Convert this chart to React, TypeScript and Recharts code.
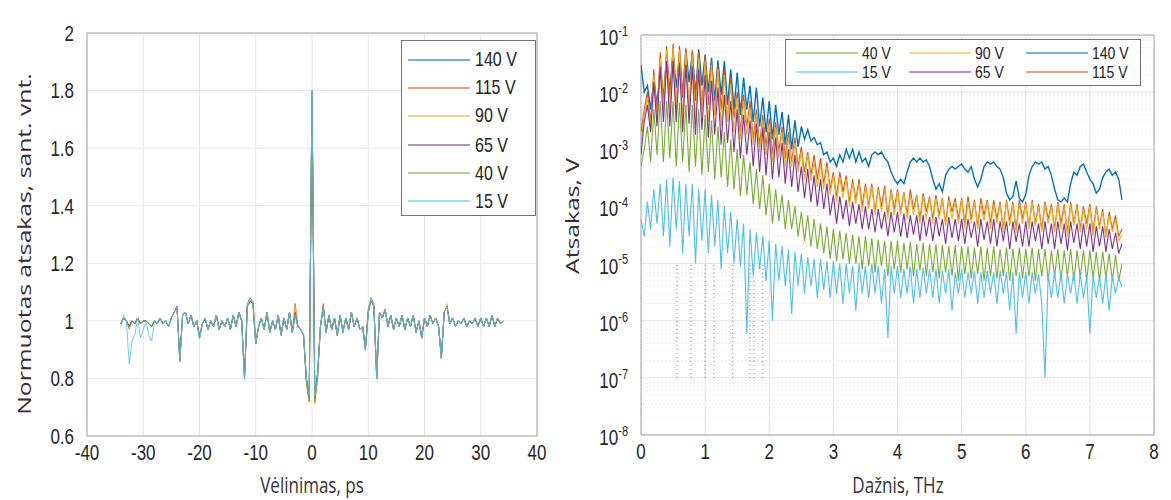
import { LineChart, Line, XAxis, YAxis, CartesianGrid, ReferenceLine, ReferenceArea } from 'recharts';

// ---- left panel: normalised response vs delay ----
const delayPs = [
  -34, -33.5, -33, -32.5, -32, -31.5, -31, -30.5, -30, -29.5,
  -29, -28.5, -28, -27.5, -27, -26.5, -26, -25.5, -25, -24.5,
  -24, -23.5, -23, -22.5, -22, -21.5, -21, -20.5, -20, -19.5,
  -19, -18.5, -18, -17.5, -17, -16.5, -16, -15.5, -15, -14.5,
  -14, -13.5, -13, -12.5, -12, -11.5, -11, -10.5, -10, -9.5,
  -9, -8.5, -8, -7.5, -7, -6.5, -6, -5.5, -5, -4.5,
  -4, -3.5, -3, -2.5, -2, -1.5, -1, -0.5, 0, 0.5,
  1, 1.5, 2, 2.5, 3, 3.5, 4, 4.5, 5, 5.5,
  6, 6.5, 7, 7.5, 8, 8.5, 9, 9.5, 10, 10.5,
  11, 11.5, 12, 12.5, 13, 13.5, 14, 14.5, 15, 15.5,
  16, 16.5, 17, 17.5, 18, 18.5, 19, 19.5, 20, 20.5,
  21, 21.5, 22, 22.5, 23, 23.5, 24, 24.5, 25, 25.5,
  26, 26.5, 27, 27.5, 28, 28.5, 29, 29.5, 30, 30.5,
  31, 31.5, 32, 32.5, 33, 33.5, 34,
];

const norm140 = [
  0.99, 1.01, 1.0, 0.98, 1.0, 0.99, 1.01, 0.99, 1.0, 1.0,
  0.99, 0.98, 1.0, 0.99, 1.01, 0.99, 1.0, 0.98, 1.01, 1.03,
  1.05, 0.86, 1.02, 1.03, 0.99, 1.02, 0.98, 1.0, 0.94, 0.99,
  1.01, 0.97, 1.0, 0.98, 1.02, 0.97, 1.0, 0.98, 1.01, 0.97,
  1.02, 0.98, 1.03, 1.0, 0.8, 1.05, 1.07, 1.06, 0.92, 0.98,
  1.01, 0.97, 1.03, 0.96, 1.0, 0.97, 1.02, 0.95, 1.01, 0.97,
  1.03, 0.96, 1.02, 0.98, 0.97, 0.95, 0.8, 0.75, 1.8, 0.75,
  0.82, 0.98, 1.05, 0.96, 1.02, 0.97, 1.01, 0.95, 1.02, 0.96,
  1.01, 0.97, 1.03, 0.98, 1.01, 0.97, 0.98, 0.9, 1.03, 1.08,
  1.05, 0.8, 1.03, 1.01, 1.04, 0.98, 1.02, 0.97, 1.01, 0.98,
  1.02, 0.97, 1.01, 0.98, 1.02, 0.96, 1.0, 0.94, 1.01, 0.98,
  1.02, 0.99, 1.01, 0.98, 0.87, 1.03, 1.05, 0.99, 1.01, 0.98,
  1.0, 0.99, 1.01, 0.98, 1.0, 0.99, 1.01, 0.98, 1.01, 0.98,
  1.01, 0.98, 1.02, 0.98, 1.01, 0.99, 1.0,
];

const norm115 = [
  0.99, 1.01, 1.0, 0.98, 1.0, 0.99, 1.01, 0.99, 1.0, 1.0,
  0.99, 0.98, 1.0, 0.99, 1.01, 0.99, 1.0, 0.98, 1.01, 1.03,
  1.05, 0.87, 1.02, 1.03, 0.99, 1.02, 0.98, 1.0, 0.95, 0.99,
  1.01, 0.97, 1.0, 0.98, 1.02, 0.97, 1.0, 0.98, 1.01, 0.97,
  1.02, 0.98, 1.03, 1.0, 0.81, 1.06, 1.08, 1.07, 0.93, 0.98,
  1.01, 0.97, 1.03, 0.96, 1.0, 0.97, 1.02, 0.95, 1.01, 0.97,
  1.03, 0.96, 1.06, 0.98, 0.97, 0.95, 0.79, 0.72, 1.78, 0.72,
  0.81, 0.98, 1.06, 0.96, 1.02, 0.97, 1.01, 0.95, 1.02, 0.96,
  1.01, 0.97, 1.03, 0.98, 1.01, 0.97, 0.98, 0.91, 1.04, 1.08,
  1.06, 0.81, 1.03, 1.01, 1.04, 0.98, 1.02, 0.97, 1.01, 0.98,
  1.02, 0.97, 1.01, 0.98, 1.02, 0.96, 1.0, 0.95, 1.01, 0.98,
  1.02, 0.99, 1.01, 0.98, 0.88, 1.03, 1.05, 0.99, 1.01, 0.98,
  1.0, 0.99, 1.01, 0.98, 1.0, 0.99, 1.01, 0.98, 1.01, 0.98,
  1.01, 0.98, 1.02, 0.98, 1.01, 0.99, 1.0,
];

const norm90 = [
  0.99, 1.01, 1.0, 0.98, 1.0, 0.99, 1.01, 0.99, 1.0, 1.0,
  0.99, 0.98, 1.0, 0.99, 1.01, 0.99, 1.0, 0.98, 1.01, 1.03,
  1.05, 0.87, 1.02, 1.03, 0.99, 1.02, 0.98, 1.0, 0.95, 0.99,
  1.01, 0.97, 1.0, 0.98, 1.02, 0.97, 1.0, 0.98, 1.01, 0.97,
  1.02, 0.98, 1.03, 1.0, 0.81, 1.05, 1.08, 1.06, 0.93, 0.98,
  1.01, 0.97, 1.03, 0.96, 1.0, 0.97, 1.02, 0.95, 1.01, 0.97,
  1.03, 0.96, 1.05, 0.98, 0.97, 0.95, 0.79, 0.72, 1.79, 0.71,
  0.81, 0.98, 1.05, 0.96, 1.02, 0.97, 1.01, 0.95, 1.02, 0.96,
  1.01, 0.97, 1.03, 0.98, 1.01, 0.97, 0.98, 0.91, 1.03, 1.08,
  1.05, 0.81, 1.03, 1.01, 1.04, 0.98, 1.02, 0.97, 1.01, 0.98,
  1.02, 0.97, 1.01, 0.98, 1.02, 0.96, 1.0, 0.95, 1.01, 0.98,
  1.02, 0.99, 1.01, 0.98, 0.88, 1.03, 1.06, 0.99, 1.01, 0.98,
  1.0, 0.99, 1.01, 0.98, 1.0, 0.99, 1.01, 0.98, 1.01, 0.98,
  1.01, 0.98, 1.02, 0.98, 1.01, 0.99, 1.0,
];

const norm65 = [
  0.99, 1.01, 1.0, 0.98, 1.0, 0.99, 1.01, 0.99, 1.0, 1.0,
  0.99, 0.98, 1.0, 0.99, 1.01, 0.99, 1.0, 0.98, 1.01, 1.03,
  1.05, 0.86, 1.02, 1.03, 0.99, 1.02, 0.98, 1.0, 0.94, 0.99,
  1.01, 0.97, 1.0, 0.98, 1.02, 0.97, 1.0, 0.98, 1.01, 0.97,
  1.02, 0.98, 1.03, 1.0, 0.8, 1.05, 1.07, 1.06, 0.92, 0.98,
  1.01, 0.97, 1.03, 0.96, 1.0, 0.97, 1.02, 0.95, 1.01, 0.97,
  1.03, 0.96, 1.03, 0.98, 0.97, 0.95, 0.8, 0.73, 1.79, 0.73,
  0.82, 0.98, 1.05, 0.96, 1.02, 0.97, 1.01, 0.95, 1.02, 0.96,
  1.01, 0.97, 1.03, 0.98, 1.01, 0.97, 0.98, 0.9, 1.03, 1.07,
  1.05, 0.8, 1.03, 1.01, 1.04, 0.98, 1.02, 0.97, 1.01, 0.98,
  1.02, 0.97, 1.01, 0.98, 1.02, 0.96, 1.0, 0.94, 1.01, 0.98,
  1.02, 0.99, 1.01, 0.98, 0.87, 1.03, 1.05, 0.99, 1.01, 0.98,
  1.0, 0.99, 1.01, 0.98, 1.0, 0.99, 1.01, 0.98, 1.01, 0.98,
  1.01, 0.98, 1.02, 0.98, 1.01, 0.99, 1.0,
];

const norm40 = [
  0.99, 1.01, 1.0, 0.97, 1.0, 0.99, 1.01, 0.99, 1.0, 1.0,
  0.99, 0.98, 1.0, 0.99, 1.01, 0.99, 1.0, 0.98, 1.01, 1.03,
  1.05, 0.86, 1.02, 1.03, 0.99, 1.02, 0.98, 1.0, 0.94, 0.99,
  1.01, 0.97, 1.0, 0.98, 1.02, 0.97, 1.0, 0.98, 1.01, 0.97,
  1.02, 0.98, 1.03, 1.0, 0.8, 1.05, 1.07, 1.06, 0.92, 0.98,
  1.01, 0.97, 1.03, 0.96, 1.0, 0.97, 1.02, 0.95, 1.01, 0.97,
  1.03, 0.96, 1.02, 0.98, 0.97, 0.95, 0.78, 0.72, 1.79, 0.72,
  0.8, 0.98, 1.05, 0.96, 1.02, 0.97, 1.01, 0.95, 1.02, 0.96,
  1.01, 0.97, 1.03, 0.98, 1.01, 0.97, 0.98, 0.9, 1.03, 1.07,
  1.05, 0.8, 1.03, 1.01, 1.04, 0.98, 1.02, 0.97, 1.01, 0.98,
  1.02, 0.97, 1.01, 0.98, 1.02, 0.96, 1.0, 0.94, 1.01, 0.98,
  1.02, 0.99, 1.01, 0.98, 0.87, 1.03, 1.05, 0.99, 1.01, 0.98,
  1.0, 0.99, 1.01, 0.98, 1.0, 0.99, 1.01, 0.98, 1.01, 0.98,
  1.01, 0.98, 1.02, 0.98, 1.01, 0.99, 1.0,
];

const norm15 = [
  0.98, 1.02, 1.0, 0.85, 0.93, 0.95, 1.01, 0.94, 0.97, 1.0,
  0.95, 0.93, 1.0, 0.99, 1.01, 0.99, 1.0, 0.98, 1.01, 1.03,
  1.05, 0.86, 1.02, 1.03, 0.99, 1.02, 0.98, 1.0, 0.94, 0.99,
  1.01, 0.97, 1.0, 0.98, 1.02, 0.97, 1.0, 0.98, 1.01, 0.97,
  1.02, 0.98, 1.03, 1.0, 0.8, 1.05, 1.08, 1.06, 0.92, 0.98,
  1.01, 0.97, 1.03, 0.96, 1.0, 0.97, 1.02, 0.95, 1.01, 0.97,
  1.03, 0.96, 1.02, 0.98, 0.97, 0.95, 0.8, 0.74, 1.8, 0.74,
  0.82, 0.98, 1.05, 0.96, 1.02, 0.97, 1.01, 0.95, 1.02, 0.96,
  1.01, 0.97, 1.03, 0.98, 1.01, 0.97, 0.98, 0.9, 1.03, 1.08,
  1.05, 0.8, 1.03, 1.01, 1.04, 0.98, 1.02, 0.97, 1.01, 0.98,
  1.02, 0.97, 1.01, 0.98, 1.02, 0.96, 1.0, 0.94, 1.01, 0.98,
  1.02, 0.99, 1.01, 0.98, 0.87, 1.03, 1.05, 0.99, 1.01, 0.98,
  1.0, 0.99, 1.01, 0.98, 1.0, 0.99, 1.01, 0.98, 1.01, 0.98,
  1.01, 0.98, 1.02, 0.98, 1.01, 0.99, 1.0,
];

// ---- right panel: spectrum amplitude vs frequency ----
const freqTHz = [
  0, 0.05, 0.1, 0.15, 0.2, 0.25, 0.3, 0.35, 0.4, 0.45,
  0.5, 0.55, 0.6, 0.65, 0.7, 0.75, 0.8, 0.85, 0.9, 0.95,
  1, 1.05, 1.1, 1.15, 1.2, 1.25, 1.3, 1.35, 1.4, 1.45,
  1.5, 1.55, 1.6, 1.65, 1.7, 1.75, 1.8, 1.85, 1.9, 1.95,
  2, 2.05, 2.1, 2.15, 2.2, 2.25, 2.3, 2.35, 2.4, 2.45,
  2.5, 2.55, 2.6, 2.65, 2.7, 2.75, 2.8, 2.85, 2.9, 2.95,
  3, 3.05, 3.1, 3.15, 3.2, 3.25, 3.3, 3.35, 3.4, 3.45,
  3.5, 3.55, 3.6, 3.65, 3.7, 3.75, 3.8, 3.85, 3.9, 3.95,
  4, 4.05, 4.1, 4.15, 4.2, 4.25, 4.3, 4.35, 4.4, 4.45,
  4.5, 4.55, 4.6, 4.65, 4.7, 4.75, 4.8, 4.85, 4.9, 4.95,
  5, 5.05, 5.1, 5.15, 5.2, 5.25, 5.3, 5.35, 5.4, 5.45,
  5.5, 5.55, 5.6, 5.65, 5.7, 5.75, 5.8, 5.85, 5.9, 5.95,
  6, 6.05, 6.1, 6.15, 6.2, 6.25, 6.3, 6.35, 6.4, 6.45,
  6.5, 6.55, 6.6, 6.65, 6.7, 6.75, 6.8, 6.85, 6.9, 6.95,
  7, 7.05, 7.1, 7.15, 7.2, 7.25, 7.3, 7.35, 7.4, 7.45,
  7.5,
];

const amp140 = [
  3e-2, 1e-2, 1.3e-2, 5e-3, 1.6e-2, 6e-3, 2.5e-2, 8e-3, 4e-2, 1e-2,
  5e-2, 1.2e-2, 4.5e-2, 8e-3, 5.5e-2, 1.5e-2, 5e-2, 9e-3, 5.6e-2, 1.3e-2,
  4.5e-2, 1e-2, 4e-2, 7e-3, 3.6e-2, 9e-3, 3.5e-2, 6e-3, 2.5e-2, 5e-3,
  2.2e-2, 4e-3, 1.8e-2, 5e-3, 1.3e-2, 3e-3, 1.2e-2, 2.5e-3, 8e-3, 2e-3,
  7e-3, 1.5e-3, 6e-3, 1.8e-3, 4.5e-3, 1.2e-3, 4e-3, 1e-3, 3.2e-3, 1.1e-3,
  2.5e-3, 1.5e-3, 2.2e-3, 1.4e-3, 1.6e-3, 1.2e-3, 1.3e-3, 8e-4, 9e-4, 6e-4,
  7e-4, 5e-4, 8e-4, 6e-4, 1e-3, 7e-4, 1e-3, 6e-4, 9e-4, 6e-4,
  7e-4, 5e-4, 8e-4, 9e-4, 8e-4, 9e-4, 7e-4, 6e-4, 4e-4, 3e-4,
  2.5e-4, 3e-4, 2.5e-4, 4e-4, 6e-4, 7e-4, 6e-4, 7e-4, 6e-4, 6.5e-4,
  5e-4, 3e-4, 2e-4, 2.5e-4, 1.8e-4, 3.5e-4, 4.5e-4, 5e-4, 4.5e-4, 5e-4,
  5.5e-4, 4.5e-4, 4e-4, 5e-4, 3e-4, 2.2e-4, 3e-4, 5e-4, 6e-4, 5.5e-4,
  6e-4, 5e-4, 4.5e-4, 3.2e-4, 1.7e-4, 1.3e-4, 1.5e-4, 2.8e-4, 1.4e-4, 1.2e-4,
  1.6e-4, 3.5e-4, 5e-4, 6e-4, 5.5e-4, 6e-4, 4.5e-4, 5e-4, 3.5e-4, 2e-4,
  1.3e-4, 1.2e-4, 1.4e-4, 1.2e-4, 2.5e-4, 4e-4, 3.5e-4, 5e-4, 5.5e-4, 4e-4,
  3e-4, 2.5e-4, 1.7e-4, 2e-4, 3.2e-4, 4e-4, 4.5e-4, 3.5e-4, 4e-4, 3e-4,
  1.3e-4,
];

const amp115 = [
  2e-3, 5e-3, 1e-2, 3e-3, 2.5e-2, 4e-3, 5e-2, 6e-3, 6.5e-2, 8e-3,
  7e-2, 5e-3, 6.5e-2, 9e-3, 6e-2, 4e-3, 5.5e-2, 7e-3, 5e-2, 5e-3,
  4.5e-2, 6e-3, 3.5e-2, 4e-3, 3e-2, 5e-3, 2.5e-2, 3e-3, 1.8e-2, 3.5e-3,
  1e-2, 2e-3, 9e-3, 2.5e-3, 7e-3, 1.5e-3, 5e-3, 1.2e-3, 4e-3, 1.1e-3,
  3.5e-3, 8e-4, 3e-3, 9e-4, 2.5e-3, 7e-4, 2e-3, 6e-4, 1.6e-3, 5e-4,
  1.1e-3, 4e-4, 9e-4, 3.5e-4, 8e-4, 3e-4, 7e-4, 2.5e-4, 6e-4, 2e-4,
  4e-4, 1.5e-4, 4e-4, 1.8e-4, 3.5e-4, 1.2e-4, 3e-4, 1.3e-4, 3e-4, 1e-4,
  2.5e-4, 1e-4, 2.5e-4, 8e-5, 2.2e-4, 1e-4, 2.3e-4, 7e-5, 2e-4, 9e-5,
  2e-4, 8e-5, 1.8e-4, 7e-5, 2e-4, 9e-5, 1.6e-4, 6e-5, 1.7e-4, 8e-5,
  1.5e-4, 6e-5, 1.6e-4, 7e-5, 1.4e-4, 5e-5, 1.5e-4, 8e-5, 1.4e-4, 6e-5,
  1.4e-4, 5e-5, 1.5e-4, 6e-5, 1.3e-4, 4.5e-5, 1.4e-4, 7e-5, 1.3e-4, 5e-5,
  1.3e-4, 6e-5, 1.2e-4, 4e-5, 1.3e-4, 5.5e-5, 1.2e-4, 4e-5, 1.3e-4, 6e-5,
  1.2e-4, 4.5e-5, 1.3e-4, 5e-5, 1.1e-4, 4e-5, 1.2e-4, 6e-5, 1.1e-4, 4e-5,
  1.2e-4, 5e-5, 1.1e-4, 3.5e-5, 1.2e-4, 5e-5, 1.1e-4, 4e-5, 1e-4, 5e-5,
  1.1e-4, 3.5e-5, 1e-4, 4.5e-5, 9e-5, 3e-5, 8e-5, 4e-5, 7e-5, 3e-5,
  4e-5,
];

const amp90 = [
  1.3e-3, 4e-3, 8e-3, 2.5e-3, 2e-2, 3e-3, 4e-2, 5e-3, 5.5e-2, 4e-3,
  6e-2, 6e-3, 5.5e-2, 3.5e-3, 5e-2, 5e-3, 4.5e-2, 3e-3, 4e-2, 4e-3,
  3.5e-2, 3e-3, 3e-2, 4e-3, 2.5e-2, 2.5e-3, 2e-2, 3e-3, 1.4e-2, 2e-3,
  8e-3, 1.5e-3, 7e-3, 1.8e-3, 5e-3, 1.2e-3, 4e-3, 9e-4, 3.2e-3, 8e-4,
  2.8e-3, 6e-4, 2.4e-3, 7e-4, 2e-3, 5e-4, 1.6e-3, 5e-4, 1.3e-3, 4e-4,
  9e-4, 3e-4, 8e-4, 2.8e-4, 6e-4, 2.2e-4, 5.5e-4, 2e-4, 5e-4, 1.6e-4,
  3.5e-4, 1.2e-4, 3.2e-4, 1.4e-4, 3e-4, 1e-4, 2.6e-4, 1.1e-4, 2.5e-4, 8e-5,
  2.2e-4, 9e-5, 2.2e-4, 7e-5, 2e-4, 8e-5, 2e-4, 6e-5, 1.8e-4, 7e-5,
  1.8e-4, 7e-5, 1.7e-4, 6e-5, 1.6e-4, 7e-5, 1.5e-4, 5e-5, 1.5e-4, 6e-5,
  1.4e-4, 5e-5, 1.4e-4, 6e-5, 1.3e-4, 4.5e-5, 1.3e-4, 6e-5, 1.2e-4, 5e-5,
  1.3e-4, 4e-5, 1.2e-4, 5e-5, 1.2e-4, 4e-5, 1.1e-4, 5.5e-5, 1.2e-4, 4e-5,
  1.1e-4, 5e-5, 1.1e-4, 3.5e-5, 1.2e-4, 4.5e-5, 1.1e-4, 3.5e-5, 1.1e-4, 5e-5,
  1.1e-4, 4e-5, 1.2e-4, 4.5e-5, 1e-4, 3.5e-5, 1.1e-4, 5e-5, 1e-4, 3.5e-5,
  1.1e-4, 4e-5, 1e-4, 3e-5, 1.1e-4, 4.5e-5, 1e-4, 3.5e-5, 9e-5, 4e-5,
  1e-4, 3e-5, 9e-5, 4e-5, 8e-5, 2.8e-5, 7e-5, 3.5e-5, 6e-5, 2.5e-5,
  3.2e-5,
];

const amp65 = [
  8e-4, 3e-3, 6e-3, 2e-3, 1.5e-2, 2.5e-3, 2.8e-2, 3e-3, 3.5e-2, 2.5e-3,
  3.5e-2, 3e-3, 3.2e-2, 2e-3, 3e-2, 2.8e-3, 2.8e-2, 1.8e-3, 2.5e-2, 2.2e-3,
  2e-2, 1.6e-3, 1.6e-2, 1.8e-3, 1.2e-2, 1.2e-3, 9e-3, 1.3e-3, 7e-3, 9e-4,
  5e-3, 7e-4, 4e-3, 8e-4, 3.2e-3, 5e-4, 2.8e-3, 4e-4, 2.4e-3, 3.5e-4,
  2e-3, 3e-4, 1.6e-3, 3.2e-4, 1.3e-3, 2.5e-4, 1e-3, 2.2e-4, 8e-4, 1.8e-4,
  5e-4, 1.4e-4, 4.5e-4, 1.2e-4, 3.5e-4, 1e-4, 3e-4, 9e-5, 2.5e-4, 7e-5,
  1.6e-4, 5e-5, 1.5e-4, 6e-5, 1.3e-4, 4.5e-5, 1.2e-4, 5e-5, 1.1e-4, 4e-5,
  1e-4, 4e-5, 9e-5, 3.5e-5, 9e-5, 4e-5, 8e-5, 3e-5, 8e-5, 3.5e-5,
  8e-5, 3e-5, 7.5e-5, 2.8e-5, 7e-5, 3.2e-5, 7e-5, 2.5e-5, 7e-5, 3e-5,
  6.5e-5, 2.5e-5, 6.5e-5, 3e-5, 6e-5, 2.2e-5, 6.5e-5, 2.8e-5, 6e-5, 2.5e-5,
  6e-5, 2.2e-5, 6e-5, 2.8e-5, 5.5e-5, 2e-5, 6e-5, 2.6e-5, 5.5e-5, 2.2e-5,
  6e-5, 2e-5, 5.5e-5, 2.5e-5, 5.5e-5, 1.8e-5, 5.5e-5, 2.4e-5, 5e-5, 2e-5,
  5.5e-5, 2e-5, 5.5e-5, 2.5e-5, 5e-5, 1.8e-5, 5.5e-5, 2.2e-5, 5e-5, 1.8e-5,
  5.5e-5, 2.2e-5, 5e-5, 1.7e-5, 5.5e-5, 2.3e-5, 5e-5, 1.8e-5, 5e-5, 2e-5,
  5e-5, 1.6e-5, 4.5e-5, 2e-5, 4.5e-5, 1.6e-5, 4e-5, 1.8e-5, 3.5e-5, 1.5e-5,
  2.2e-5,
];

const amp40 = [
  5e-4, 1e-3, 2.5e-3, 6e-4, 5e-3, 8e-4, 7e-3, 6e-4, 7e-3, 7e-4,
  7e-3, 5e-4, 6.5e-3, 6e-4, 6e-3, 4e-4, 6e-3, 5e-4, 5e-3, 3.5e-4,
  4e-3, 4e-4, 3.2e-3, 3e-4, 2.5e-3, 3.2e-4, 2e-3, 2.2e-4, 1.5e-3, 2e-4,
  1e-3, 1.5e-4, 8e-4, 1.6e-4, 6e-4, 1.1e-4, 4.5e-4, 9e-5, 3.5e-4, 7e-5,
  2.5e-4, 5e-5, 2e-4, 5.5e-5, 1.6e-4, 4e-5, 1.3e-4, 4e-5, 1e-4, 3e-5,
  8e-5, 2.5e-5, 7e-5, 2e-5, 6e-5, 1.8e-5, 5e-5, 1.5e-5, 4.5e-5, 1.2e-5,
  4e-5, 1.1e-5, 3.8e-5, 1.2e-5, 3.5e-5, 1e-5, 3.2e-5, 1e-5, 3e-5, 8e-6,
  3e-5, 9e-6, 2.8e-5, 7e-6, 2.6e-5, 9e-6, 2.5e-5, 6e-6, 2.5e-5, 8e-6,
  2.5e-5, 7e-6, 2.3e-5, 8e-6, 2.4e-5, 6e-6, 2.2e-5, 7.5e-6, 2.3e-5, 6e-6,
  2.2e-5, 7e-6, 2.2e-5, 5.5e-6, 2.1e-5, 7e-6, 2e-5, 6e-6, 2.1e-5, 5e-6,
  2e-5, 6.5e-6, 2e-5, 5.5e-6, 1.9e-5, 6.5e-6, 2e-5, 5e-6, 1.9e-5, 6e-6,
  2e-5, 5.5e-6, 1.8e-5, 6e-6, 1.9e-5, 5e-6, 1.8e-5, 6e-6, 1.9e-5, 5.5e-6,
  1.8e-5, 6e-6, 1.9e-5, 5e-6, 1.8e-5, 6e-6, 1.8e-5, 5e-6, 1.7e-5, 6e-6,
  1.8e-5, 5e-6, 1.7e-5, 6e-6, 1.8e-5, 5e-6, 1.7e-5, 5.5e-6, 1.7e-5, 5e-6,
  1.7e-5, 5.5e-6, 1.6e-5, 5e-6, 1.6e-5, 5.5e-6, 1.5e-5, 5e-6, 1.4e-5, 5e-6,
  1e-5,
];

const amp15 = [
  6e-5, 3e-5, 1.2e-4, 4e-5, 2e-4, 5e-5, 2.5e-4, 3e-5, 3e-4, 2e-5,
  3.2e-4, 4e-5, 2.8e-4, 1.5e-5, 2.5e-4, 3e-5, 2.5e-4, 1e-5, 2e-4, 2.5e-5,
  2e-4, 1.5e-5, 1.6e-4, 2e-5, 1.3e-4, 8e-6, 1e-4, 1.5e-5, 8e-5, 1e-5,
  6e-5, 9e-6, 5e-5, 6e-7, 4e-5, 6e-6, 3.5e-5, 8e-6, 3e-5, 5e-6,
  2.5e-5, 1e-6, 2.2e-5, 5e-6, 2e-5, 4e-6, 1.8e-5, 1.3e-6, 1.6e-5, 4e-6,
  1.5e-5, 3e-6, 1.3e-5, 4e-6, 1.2e-5, 2.5e-6, 1.2e-5, 3.5e-6, 1.1e-5, 2.5e-6,
  1.1e-5, 3e-6, 1e-5, 2e-6, 1e-5, 3e-6, 9e-6, 1.5e-6, 1e-5, 3e-6,
  9e-6, 2.5e-6, 1e-5, 3e-6, 9e-6, 2e-6, 8e-6, 5e-7, 9e-6, 3e-6,
  9e-6, 2.5e-6, 8e-6, 3e-6, 9e-6, 2e-6, 8e-6, 2.5e-6, 8.5e-6, 3e-6,
  8e-6, 2.5e-6, 8e-6, 2e-6, 7.5e-6, 3e-6, 8e-6, 1.5e-6, 7e-6, 3e-6,
  8e-6, 2.5e-6, 7e-6, 3e-6, 7.5e-6, 2e-6, 7e-6, 2.5e-6, 7.5e-6, 3e-6,
  7e-6, 2e-6, 7.5e-6, 3e-6, 7e-6, 1.5e-6, 7e-6, 6e-7, 7e-6, 2.5e-6,
  7e-6, 2e-6, 7e-6, 3e-6, 6.5e-6, 2e-6, 1e-7, 6.5e-6, 2.5e-6, 7e-6,
  2.5e-6, 7e-6, 2e-6, 6.5e-6, 3e-6, 7e-6, 2e-6, 6.5e-6, 2.5e-6, 6e-6,
  6e-7, 6.5e-6, 2.5e-6, 6e-6, 2e-6, 6.5e-6, 1.5e-6, 6e-6, 3e-6, 5.5e-6,
  4e-6,
];

// dotted vertical traces in the lower-left of the spectrum (THz), spanning 1e-7..1e-5
const dottedFreqs = [0.56, 0.78, 1.0, 1.14, 1.43, 1.7, 1.76, 1.9];

const voltLabels = ['140 V', '115 V', '90 V', '65 V', '40 V', '15 V'];
const voltKeys = ['v140', 'v115', 'v90', 'v65', 'v40', 'v15'];
const voltColors = ['#0072BD', '#D95319', '#EDB120', '#7E2F8E', '#77AC30', '#4DBEEE'];

const delayTicks = [-40, -30, -20, -10, 0, 10, 20, 30, 40];
const normTicks = [0.6, 0.8, 1, 1.2, 1.4, 1.6, 1.8, 2];
const freqTicks = [0, 1, 2, 3, 4, 5, 6, 7, 8];
const ampTicks = [1e-8, 1e-7, 1e-6, 1e-5, 1e-4, 1e-3, 1e-2, 1e-1];
// spectrum legend, 3 columns x 2 rows
const spectrumLegendRows = [
  ['40 V', '90 V', '140 V'],
  ['15 V', '65 V', '115 V'],
];

const normSeries = [norm140, norm115, norm90, norm65, norm40, norm15];
const ampSeries = [amp140, amp115, amp90, amp65, amp40, amp15];

const delayRows = delayPs.map((t, i) => {
  const row: any = { t };
  voltKeys.forEach((k, s) => { row[k] = normSeries[s][i]; });
  return row;
});

const freqRows = freqTHz.map((f, i) => {
  const row: any = { f };
  voltKeys.forEach((k, s) => { row[k] = ampSeries[s][i]; });
  return row;
});

const minorAmp: number[] = [];
ampTicks.slice(0, -1).forEach((d) => {
  for (let m = 2; m <= 9; m++) minorAmp.push(m * d);
});

// the source figure is stretched vertically, so glyphs are drawn taller than wide
const STRETCH = 1.3;
const tickFont = { fontSize: 17, fill: '#262626', fontFamily: 'Liberation Sans, Arial, sans-serif' };
const titleFont = 'Open Sans, sans-serif';
const colorOf = (label: string) => voltColors[voltLabels.indexOf(label)];

const BottomTick = (props: any) => {
  const { x, y, payload } = props;
  return (
    <g transform={`translate(${x},${y}) scale(1,${STRETCH})`}>
      <text x={0} y={0} dy="0.71em" textAnchor="middle" {...tickFont}>{payload.value}</text>
    </g>
  );
};

const LeftTick = (props: any) => {
  const { x, y, payload } = props;
  return (
    <g transform={`translate(${x},${y}) scale(1,${STRETCH})`}>
      <text x={0} y={0} dy="0.355em" textAnchor="end" {...tickFont}>{payload.value}</text>
    </g>
  );
};

const PowTick = (props: any) => {
  const { x, y, payload } = props;
  const exp = Math.round(Math.log10(payload.value));
  return (
    <g transform={`translate(${x},${y}) scale(1,${STRETCH})`}>
      <text x={0} y={0} dy="0.45em" textAnchor="end" {...tickFont}>
        10<tspan dy={-7} fontSize={11}>{exp}</tspan>
      </text>
    </g>
  );
};

function LegendSample({ color }: { color: string }) {
  return <div style={{ width: 62, height: 0, borderTop: `2px solid ${color}`, opacity: 0.55 }} />;
}

const stretchText = (extra = '', k = STRETCH) => `${extra} scaleY(${k})`;

export default function App() {
  return (
    <div style={{ position: 'absolute', left: 0, top: 0, width: 1171, height: 500, background: '#fff', overflow: 'hidden' }}>
      {/* left panel */}
      <div style={{ position: 'absolute', left: 0, top: 0 }}>
        <LineChart width={560} height={500} data={delayRows} margin={{ top: 33, right: 23, bottom: 34, left: 17 }}>
          <CartesianGrid stroke="#e6e6e6" />
          <XAxis dataKey="t" type="number" domain={[-40, 40]} ticks={delayTicks} height={30}
            tick={<BottomTick />} tickLine={false} axisLine={false} tickMargin={2} allowDataOverflow />
          <YAxis type="number" domain={[0.6, 2]} ticks={normTicks} width={70}
            tick={<LeftTick />} tickLine={false} axisLine={false} tickMargin={7} allowDataOverflow />
          <ReferenceArea x1={-40} x2={40} y1={0.6} y2={2} fill="none" stroke="#a6a6a6" />
          {voltKeys.map((k, s) => (
            <Line key={k} dataKey={k} type="linear" stroke={voltColors[s]} strokeWidth={1}
              strokeOpacity={0.8} dot={false} isAnimationActive={false} />
          ))}
        </LineChart>
      </div>

      {/* left legend */}
      <div style={{ position: 'absolute', left: 401, top: 40, width: 133, height: 174, border: '1px solid #707070', background: '#fff' }}>
        {voltLabels.map((lab, i) => (
          <div key={lab} style={{ position: 'absolute', left: 6, top: 8 + i * 28.2, height: 22, display: 'flex', alignItems: 'center' }}>
            <LegendSample color={voltColors[i]} />
            <span style={{ marginLeft: 5, fontSize: 16, lineHeight: '16px', color: '#222', fontFamily: 'Liberation Sans, Arial, sans-serif', display: 'inline-block', transform: stretchText() }}>{lab}</span>
          </div>
        ))}
      </div>

      {/* left titles */}
      <div style={{ position: 'absolute', left: 312, top: 485, lineHeight: '18px', transform: stretchText('translate(-50%, -50%)'), whiteSpace: 'nowrap', fontFamily: titleFont, fontSize: 17, color: '#333' }}>
        Vėlinimas, ps
      </div>
      <div style={{ position: 'absolute', left: 24, top: 244, lineHeight: '20px', transform: 'translate(-50%, -50%) rotate(-90deg) scaleX(1.3)', whiteSpace: 'nowrap', fontFamily: titleFont, fontSize: 19, color: '#3a2a2e' }}>
        Normuotas atsakas, sant. vnt.
      </div>

      {/* right panel */}
      <div style={{ position: 'absolute', left: 560, top: 0 }}>
        <LineChart width={611} height={500} data={freqRows} margin={{ top: 35, right: 17, bottom: 35, left: 11 }}>
          <CartesianGrid stroke="#e2e2e2" />
          {minorAmp.map((v) => (
            <ReferenceLine key={v} y={v} stroke="#ececec" strokeDasharray="2 2" />
          ))}
          <XAxis dataKey="f" type="number" domain={[0, 8]} ticks={freqTicks} height={30}
            tick={<BottomTick />} tickLine={false} axisLine={false} tickMargin={2} allowDataOverflow />
          <YAxis type="number" scale="log" domain={[1e-8, 1e-1]} ticks={ampTicks} width={70}
            tick={<PowTick />} tickLine={false} axisLine={false} tickMargin={7} allowDataOverflow />
          <ReferenceArea x1={0} x2={8} y1={1e-8} y2={1e-1} fill="none" stroke="#a6a6a6" />
          {dottedFreqs.map((f) => (
            <ReferenceLine key={f} segment={[{ x: f, y: 1e-7 }, { x: f, y: 1e-5 }]}
              stroke="#777" strokeDasharray="1 3" />
          ))}
          {voltKeys.map((k, s) => (
            <Line key={k} dataKey={k} type="linear" stroke={voltColors[s]} strokeWidth={s === 0 ? 1.4 : 1.1}
              dot={false} isAnimationActive={false} />
          ))}
        </LineChart>
      </div>

      {/* right legend */}
      <div style={{ position: 'absolute', left: 785, top: 39, width: 354, height: 45, border: '1px solid #707070', background: '#fff' }}>
        {spectrumLegendRows.map((row, r) =>
          row.map((lab, c) => (
            <div key={lab} style={{ position: 'absolute', left: [10, 123, 240][c], top: 4 + r * 19, height: 18, display: 'flex', alignItems: 'center' }}>
              <LegendSample color={colorOf(lab)} />
              <span style={{ marginLeft: 4, fontSize: 14, lineHeight: '13px', color: '#222', fontFamily: 'Liberation Sans, Arial, sans-serif', display: 'inline-block', transform: stretchText('', 1.12) }}>{lab}</span>
            </div>
          ))
        )}
      </div>

      {/* right titles */}
      <div style={{ position: 'absolute', left: 898, top: 485, lineHeight: '18px', transform: stretchText('translate(-50%, -50%)'), whiteSpace: 'nowrap', fontFamily: titleFont, fontSize: 17, color: '#333' }}>
        Dažnis, THz
      </div>
      <div style={{ position: 'absolute', left: 572, top: 216, lineHeight: '20px', transform: 'translate(-50%, -50%) rotate(-90deg) scaleX(1.3)', whiteSpace: 'nowrap', fontFamily: titleFont, fontSize: 19, color: '#3a2a2e' }}>
        Atsakas, V
      </div>
    </div>
  );
}
